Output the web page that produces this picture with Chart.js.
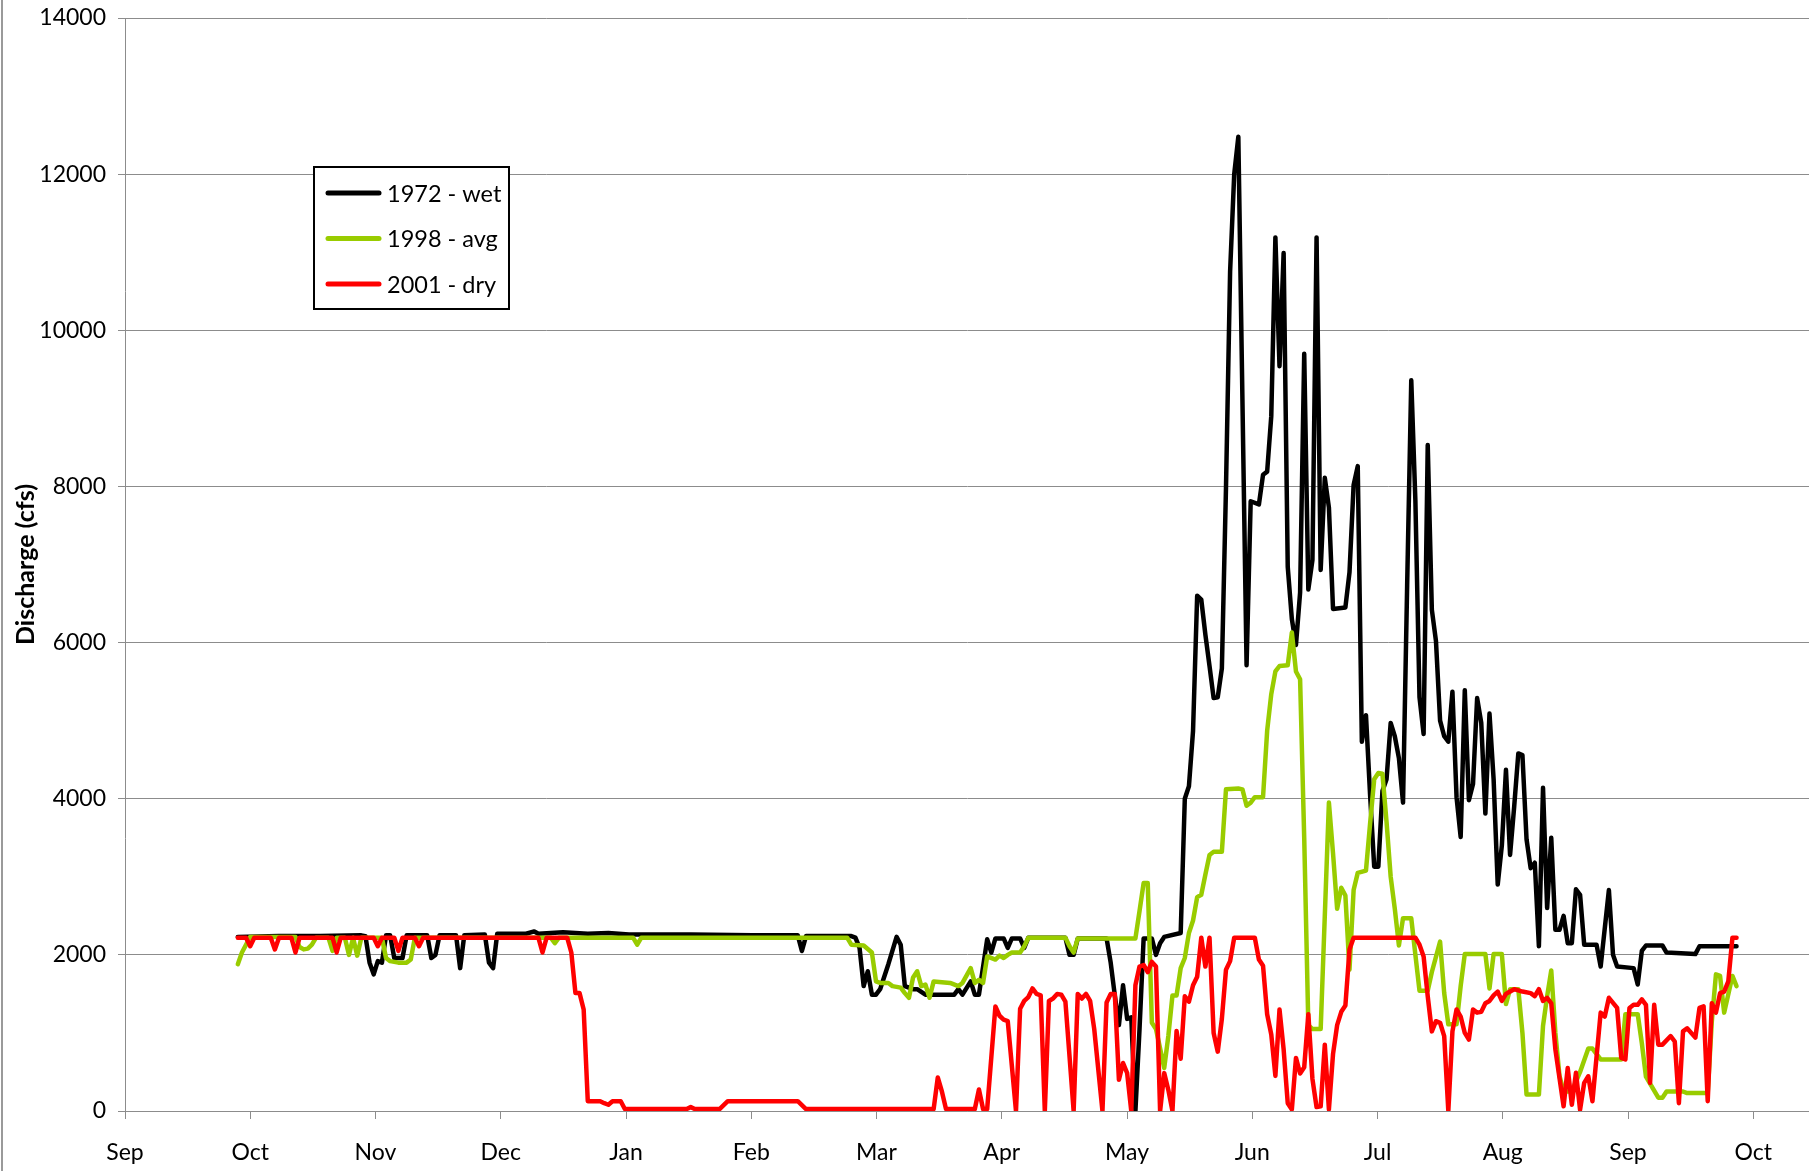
<!DOCTYPE html>
<html>
<head>
<meta charset="utf-8">
<script src="https://cdn.jsdelivr.net/npm/chart.js@4.4.1/dist/chart.umd.min.js"></script>
<style>
html,body{margin:0;padding:0;background:#fff;overflow:hidden;}
#wrap{position:relative;width:1809px;height:1171px;}
canvas{display:block;}
</style>
</head>
<body>
<div id="wrap"><canvas id="c" width="1809" height="1171"></canvas></div>
<script>
// ---- tick labels ----
const monthLabels = ['Sep','Oct','Nov','Dec','Jan','Feb','Mar','Apr','May','Jun','Jul','Aug','Sep','Oct'];
const yTicks = [0,2000,4000,6000,8000,10000,12000,14000];
const seriesNames = ['1972 - wet','1998 - avg','2001 - dry'];
const yTitle = 'Discharge (cfs)';

// ---- 1972 - wet (day index from first record, discharge cfs) ----
const wetDays = [
  0,10,20,30,31,32,33,34,35,36,
  37,38,40,41,46,47,48,49,53,54,
  55,60,61,62,63,70,72,73,79,85,
  90,95,110,125,136,137,138,149,150,151,
  152,153,154,155,156,158,160,161,162,164,
  165,167,174,175,176,178,179,180,182,183,
  184,186,187,188,190,191,192,201,202,203,
  204,211,212,213,214,215,216,217,218,219,
  220,222,223,224,225,229,230,231,232,233,
  234,235,236,237,238,239,240,241,242,243,
  245,246,248,249,250,251,252,253,254,255,
  256,257,258,259,260,261,262,263,264,265,
  266,269,270,271,272,273,274,275,276,277,
  278,279,280,281,282,283,284,285,286,287,
  288,289,290,291,292,293,294,295,296,297,
  298,299,300,301,302,303,304,305,306,307,
  308,309,310,311,312,313,314,315,316,317,
  318,319,320,321,322,323,324,325,326,327,
  330,331,333,334,335,339,340,341,342,346,
  347,354,355,364];
const wetFlow = [
  2230,2240,2240,2250,2240,1900,1750,1920,1900,2250,
  2250,1960,1960,2250,2250,1960,2000,2250,2250,1830,
  2250,2260,1900,1830,2270,2270,2300,2270,2290,2270,
  2280,2260,2260,2250,2250,2050,2240,2240,2220,2090,
  1600,1790,1490,1490,1560,1880,2230,2130,1600,1560,
  1560,1490,1490,1560,1490,1660,1490,1490,2200,2030,
  2210,2210,2090,2210,2210,2090,2220,2220,2000,2000,
  2210,2210,1900,1480,1100,1610,1180,1200,0,1050,
  2210,2210,2000,2150,2230,2280,4000,4160,4870,6600,
  6550,6100,5700,5290,5300,5670,7980,10750,12000,12480,
  5710,7810,7770,8150,8190,8900,11190,9540,10990,6970,
  6300,5970,6640,9700,6680,7060,11190,6930,8110,7730,
  6430,6450,6900,8020,8260,4730,5070,4050,3130,3130,
  4100,4250,4970,4800,4520,3950,6730,9360,7820,5300,
  4830,8530,6420,6020,5000,4800,4730,5370,4020,3510,
  5390,3980,4190,5290,4970,3810,5090,4250,2900,3400,
  4370,3280,3900,4580,4560,3480,3110,3180,2110,4140,
  2600,3500,2320,2320,2500,2150,2150,2840,2770,2130,
  2130,1850,2830,2000,1850,1830,1620,2050,2120,2120,
  2030,2010,2110,2110];

// ---- 1998 - avg ----
const avgDays = [
  0,1,3,14,15,16,17,18,19,22,
  23,24,26,27,28,29,30,35,36,37,
  39,41,42,43,76,77,78,96,97,98,
  148,149,152,154,155,156,158,159,161,162,
  163,164,165,166,167,168,169,173,175,176,
  178,179,180,181,182,184,185,186,187,188,
  190,191,192,201,202,203,204,218,219,220,
  221,222,223,225,226,227,228,229,230,231,
  232,233,234,235,236,237,239,240,243,244,
  245,246,247,249,250,251,252,253,255,256,
  257,258,259,260,261,263,265,266,267,268,
  269,270,271,272,274,275,276,277,278,279,
  280,281,282,283,285,286,287,289,290,292,
  293,294,296,297,298,303,304,305,307,308,
  309,311,312,313,316,317,318,319,320,321,
  322,324,326,328,329,331,336,337,340,341,
  342,345,346,347,351,352,357,358,359,360,
  361,363,364];
const avgFlow = [
  1880,2030,2230,2230,2100,2070,2080,2130,2220,2220,
  2050,2220,2220,2000,2220,1990,2220,2220,1960,1920,
  1900,1900,1940,2220,2220,2150,2220,2220,2130,2220,
  2220,2130,2120,2030,1660,1640,1640,1600,1580,1510,
  1450,1710,1790,1600,1620,1450,1660,1640,1600,1640,
  1830,1640,1680,1640,1980,1940,1990,1960,2000,2030,
  2030,2110,2220,2220,2110,2030,2210,2210,2560,2920,
  2920,1130,1050,550,960,1480,1480,1830,1960,2280,
  2440,2740,2770,3030,3280,3320,3320,4120,4130,4120,
  3910,3950,4020,4020,4870,5340,5630,5700,5710,6130,
  5630,5530,3500,1100,1050,1050,3950,3300,2590,2860,
  2760,1810,2830,3050,3080,3680,4250,4330,4320,3700,
  3000,2590,2120,2470,2470,2000,1540,1540,1780,2170,
  1510,1110,1110,1600,2010,2010,1570,2010,2010,1370,
  1560,1560,1000,210,210,1090,1470,1800,1000,450,
  250,250,500,800,800,660,660,1240,1240,870,
  440,170,170,250,250,230,230,1150,1750,1730,
  1260,1730,1600];

// ---- 2001 - dry ----
const dryDays = [
  0,2,3,4,8,9,10,13,14,15,
  23,24,25,33,34,35,38,39,40,43,
  44,45,73,74,75,80,81,82,83,84,
  85,88,89,90,91,93,94,109,110,111,
  117,119,136,138,169,170,171,172,179,180,
  181,182,184,185,186,187,189,190,191,192,
  193,194,195,196,197,198,199,200,201,203,
  204,205,206,207,208,210,211,212,213,214,
  215,216,217,218,219,220,221,222,223,224,
  225,226,227,228,229,230,231,232,233,234,
  235,236,237,238,239,240,241,242,247,248,
  249,250,251,252,253,254,255,256,257,258,
  259,260,261,262,263,264,265,266,267,268,
  269,270,271,286,287,288,289,290,291,292,
  293,294,295,296,297,298,299,300,301,302,
  303,304,305,306,307,308,309,310,312,314,
  315,316,317,318,319,320,322,323,324,325,
  326,327,328,329,331,332,333,335,336,337,
  338,339,340,341,342,343,344,345,346,348,
  349,350,351,352,354,355,356,357,358,359,
  360,361,362,363,364];
const dryFlow = [
  2220,2220,2110,2220,2220,2070,2220,2220,2030,2220,
  2220,2030,2220,2220,2110,2220,2220,2050,2220,2220,
  2110,2220,2220,2030,2220,2220,2030,1510,1510,1300,
  125,125,100,80,125,125,25,25,50,25,
  25,125,125,25,25,430,250,25,25,275,
  25,25,1340,1220,1170,1150,0,1310,1410,1460,
  1570,1500,1480,0,1410,1440,1500,1490,1400,0,
  1500,1440,1500,1410,1050,0,1390,1500,1500,400,
  615,485,0,1610,1850,1870,1780,1910,1850,0,
  485,270,0,1025,670,1470,1400,1610,1720,2220,
  1850,2220,1000,760,1180,1810,1920,2220,2220,1940,
  1860,1240,980,450,1300,790,100,20,680,480,
  560,1240,410,50,60,850,20,730,1100,1270,
  1350,2070,2220,2220,2130,1980,1470,1020,1150,1130,
  960,0,1020,1300,1210,1000,915,1300,1260,1270,
  1380,1410,1480,1530,1410,1500,1530,1560,1530,1510,
  1470,1560,1410,1450,1380,790,60,550,80,490,
  17,360,445,125,1260,1210,1450,1320,680,660,
  1320,1360,1360,1430,1360,360,1360,850,850,960,
  890,100,1020,1060,940,1320,1340,125,1380,1260,
  1510,1530,1660,2220,2220];

// axis geometry: days from first "Sep" tick to first record, days per month tick
const FIRST_DAY_OFFSET = 27.4;
const DAYS_PER_TICK = 30.42;
const X_MAX = 409;

function toPoints(days, vals) {
  return days.map((d, i) => ({ x: FIRST_DAY_OFFSET + d, y: vals[i] }));
}

const FONT = 'Lato';

const legendBox = {
  id: 'legendBox',
  afterDraw(chart) {
    const ctx = chart.ctx;
    ctx.save();
    const bx = 314, by = 167, bw = 195, bh = 142;
    ctx.fillStyle = '#ffffff';
    ctx.fillRect(bx, by, bw, bh);
    ctx.lineWidth = 2;
    ctx.strokeStyle = '#000000';
    ctx.strokeRect(bx, by, bw, bh);
    chart.data.datasets.forEach((ds, i) => {
      const cy = 193 + i * 45.5;
      ctx.strokeStyle = ds.borderColor;
      ctx.lineWidth = 5;
      ctx.lineCap = 'round';
      ctx.beginPath();
      ctx.moveTo(328, cy);
      ctx.lineTo(379, cy);
      ctx.stroke();
      ctx.fillStyle = '#000000';
      ctx.font = '23.5px ' + FONT;
      ctx.textBaseline = 'middle';
      ctx.textAlign = 'left';
      ctx.fillText(ds.label, 387, cy + 1);
    });
    ctx.restore();
  }
};

const leftEdge = {
  id: 'leftEdge',
  afterDraw(chart) {
    const ctx = chart.ctx;
    ctx.save();
    ctx.strokeStyle = '#9a9a9a';
    ctx.lineWidth = 2;
    ctx.beginPath();
    ctx.moveTo(2, 0);
    ctx.lineTo(2, 1171);
    ctx.stroke();
    ctx.restore();
  }
};

function draw() {
  new Chart(document.getElementById('c'), {
    type: 'line',
    data: {
      datasets: [
        { label: seriesNames[0], data: toPoints(wetDays, wetFlow), borderColor: '#000000', order: 3 },
        { label: seriesNames[1], data: toPoints(avgDays, avgFlow), borderColor: '#99CC00', order: 2 },
        { label: seriesNames[2], data: toPoints(dryDays, dryFlow), borderColor: '#FF0000', order: 1 }
      ]
    },
    options: {
      responsive: false,
      animation: false,
      events: [],
      elements: {
        point: { radius: 0 },
        line: { borderWidth: 4.5, tension: 0, borderJoinStyle: 'round', borderCapStyle: 'round', fill: false }
      },
      layout: { padding: { top: 18, left: 0, right: 0, bottom: 0 } },
      plugins: { legend: { display: false }, tooltip: { enabled: false } },
      scales: {
        x: {
          type: 'linear',
          min: 0,
          max: X_MAX,
          afterBuildTicks: s => { s.ticks = monthLabels.map((_, k) => ({ value: k * DAYS_PER_TICK })); },
          afterFit: s => { s.height = 60; s.paddingLeft = 0; s.paddingRight = 0; },
          ticks: {
            callback: (v, i) => monthLabels[i],
            font: { family: FONT, size: 23 },
            color: '#000000',
            padding: 20,
            maxRotation: 0,
            autoSkip: false
          },
          grid: { drawOnChartArea: false, drawTicks: true, tickLength: 8, color: '#8c8c8c' },
          border: { color: '#8c8c8c', width: 1 }
        },
        y: {
          min: 0,
          max: 14000,
          afterBuildTicks: s => { s.ticks = yTicks.map(v => ({ value: v })); },
          afterFit: s => { s.width = 125; s.paddingTop = 0; s.paddingBottom = 0; },
          ticks: {
            callback: v => String(v),
            font: { family: FONT, size: 23 },
            color: '#000000',
            padding: 12
          },
          grid: { color: '#8c8c8c', tickLength: 7 },
          border: { color: '#8c8c8c', width: 1 },
          title: {
            display: true,
            text: yTitle,
            font: { family: FONT, size: 25, weight: 'bold' },
            color: '#000000',
            padding: { top: 11, bottom: 0 }
          }
        }
      }
    },
    plugins: [legendBox, leftEdge]
  });
}

if (document.fonts && document.fonts.load) {
  Promise.all([document.fonts.load('23px Lato'), document.fonts.load('bold 25px Lato')]).then(draw, draw);
} else {
  draw();
}
</script>
</body>
</html>
